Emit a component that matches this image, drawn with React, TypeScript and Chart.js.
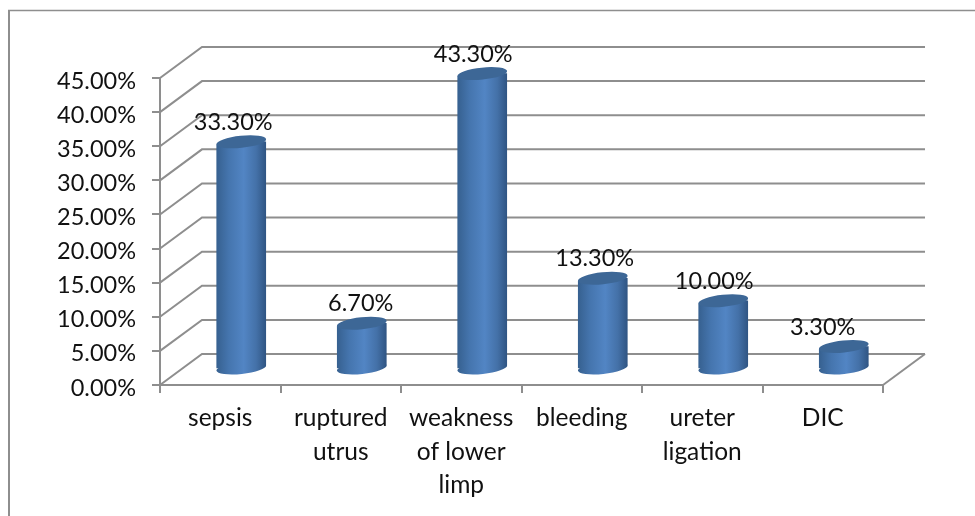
import React, { useEffect, useRef } from "react";
import { Chart, registerables } from "chart.js";

Chart.register(...registerables);

const categories = [
  "sepsis",
  ["ruptured", "utrus"],
  ["weakness", "of lower", "limp"],
  "bleeding",
  ["ureter", "ligation"],
  "DIC",
];
const values = [33.3, 6.7, 43.3, 13.3, 10.0, 3.3];
const labelShiftX = [-8, -1, -9, -8, -9, -21];

const FONT = "Lato";
const INK = "#111111";
const GREY = "#8e8e8e";
const DEPTH_X = 42;
const DEPTH_Y = -31;
const BAR_X = 21;
const BAR_Y = -16;
const RX = 25;
const RY = 6;
const TILT = (-6 * Math.PI) / 180;
const Y_LABEL_SHIFT = 3;

const walls = {
  id: "walls",
  beforeDraw(chart: any) {
    const { ctx, scales } = chart;
    ctx.save();
    ctx.fillStyle = "#ffffff";
    ctx.fillRect(0, 0, chart.width, chart.height);
    ctx.strokeStyle = GREY;
    ctx.lineWidth = 2;
    ctx.beginPath();
    ctx.moveTo(9, 516);
    ctx.lineTo(9, 10.5);
    ctx.stroke();
    ctx.lineWidth = 1.5;
    ctx.beginPath();
    ctx.moveTo(8, 10.5);
    ctx.lineTo(975, 10.5);
    ctx.stroke();
    ctx.restore();
    const items = scales.y.getLabelItems();
    if (!items.shifted) {
      items.shifted = true;
      items.forEach((it: any) => {
        it.options.translation[1] += Y_LABEL_SHIFT;
      });
    }
  },
  beforeDatasetsDraw(chart: any) {
    const { ctx, scales } = chart;
    const left = scales.x.left;
    const right = scales.x.right;
    ctx.save();
    ctx.strokeStyle = GREY;
    ctx.lineWidth = 2;
    scales.y.ticks.forEach((t: any) => {
      const y = scales.y.getPixelForValue(t.value);
      ctx.beginPath();
      ctx.moveTo(left, y);
      ctx.lineTo(left + DEPTH_X, y + DEPTH_Y);
      ctx.lineTo(right + DEPTH_X, y + DEPTH_Y);
      ctx.stroke();
    });
    const y0 = scales.y.getPixelForValue(0);
    ctx.beginPath();
    ctx.moveTo(right, y0);
    ctx.lineTo(right + DEPTH_X, y0 + DEPTH_Y);
    ctx.stroke();
    ctx.restore();
  },
};

function barFill(chart: any, i: number) {
  const cx = chart.scales?.x?.getPixelForValue(i);
  if (!Number.isFinite(cx)) return "#4f81bd";
  const g = chart.ctx.createLinearGradient(cx - RX, 0, cx + RX, 0);
  g.addColorStop(0, "#36608f");
  g.addColorStop(0.25, "#4575ae");
  g.addColorStop(0.55, "#5285c4");
  g.addColorStop(0.8, "#4471a8");
  g.addColorStop(1, "#2f5482");
  return g;
}

function ellipse(ctx: any, x: number, y: number) {
  ctx.beginPath();
  ctx.ellipse(x, y, RX, RY, TILT, 0, Math.PI * 2);
  ctx.fill();
}

const cylinders = {
  id: "cylinders",
  beforeDatasetDraw(chart: any) {
    const { ctx } = chart;
    const meta = chart.getDatasetMeta(0);
    const dx = RX * Math.cos(TILT);
    const dy = RX * Math.sin(TILT);
    ctx.save();
    ctx.translate(BAR_X, BAR_Y);
    meta.data.forEach((bar: any, i: number) => {
      ctx.fillStyle = barFill(chart, i);
      ellipse(ctx, bar.x, bar.base);
    });
    ctx.save();
    ctx.beginPath();
    meta.data.forEach((bar: any) => {
      ctx.moveTo(bar.x - dx, bar.y - dy);
      ctx.lineTo(bar.x + dx, bar.y + dy);
      ctx.lineTo(bar.x + dx, bar.base + dy);
      ctx.lineTo(bar.x - dx, bar.base - dy);
      ctx.closePath();
    });
    ctx.clip();
  },
  afterDatasetDraw(chart: any) {
    const { ctx } = chart;
    ctx.restore();
    chart.getDatasetMeta(0).data.forEach((bar: any) => {
      ctx.fillStyle = "#3d6796";
      ellipse(ctx, bar.x, bar.y);
    });
    ctx.restore();
  },
  afterDatasetsDraw(chart: any) {
    const { ctx, scales } = chart;
    ctx.save();
    ctx.fillStyle = INK;
    ctx.font = `23.5px ${FONT}`;
    ctx.textAlign = "center";
    ctx.textBaseline = "middle";
    values.forEach((v, i) => {
      ctx.fillText(
        v.toFixed(2) + "%",
        scales.x.getPixelForValue(i) + BAR_X + labelShiftX[i],
        scales.y.getPixelForValue(v) - 35.5
      );
    });
    ctx.restore();
  },
};

export default function App() {
  const ref = useRef<HTMLCanvasElement>(null);
  useEffect(() => {
    const chart = new Chart(ref.current!, {
      type: "bar",
      data: {
        labels: categories as any,
        datasets: [
          {
            data: values,
            barThickness: 50,
            clip: false as any,
            backgroundColor: (c: any) => barFill(c.chart, c.dataIndex),
          },
        ],
      },
      options: {
        animation: false,
        responsive: false,
        layout: { padding: { top: 78, right: 92, left: 0, bottom: 0 } },
        plugins: { legend: { display: false }, tooltip: { enabled: false } },
        scales: {
          x: {
            afterFit: (s: any) => {
              s.height = 131;
            },
            grid: {
              drawOnChartArea: false,
              color: GREY,
              lineWidth: 2,
              tickLength: 8,
            },
            border: { color: GREY, width: 2 },
            ticks: {
              color: INK,
              font: { family: FONT, size: 24.5, lineHeight: 1.35 },
              padding: 9,
              maxRotation: 0,
              autoSkip: false,
            },
          },
          y: {
            min: 0,
            max: 45,
            afterFit: (s: any) => {
              s.width = 160;
            },
            grid: {
              drawOnChartArea: false,
              color: GREY,
              lineWidth: 2,
              tickLength: 8,
            },
            border: { color: GREY, width: 2 },
            ticks: {
              stepSize: 5,
              color: INK,
              font: { family: FONT, size: 23.5 },
              padding: 16,
              callback: (v: any) => Number(v).toFixed(2) + "%",
            },
          },
        },
      },
      plugins: [walls, cylinders],
    });
    return () => chart.destroy();
  }, []);
  return (
    <canvas
      ref={ref}
      width={975}
      height={516}
      style={{ position: "fixed", left: 0, top: 0, display: "block" }}
    />
  );
}
